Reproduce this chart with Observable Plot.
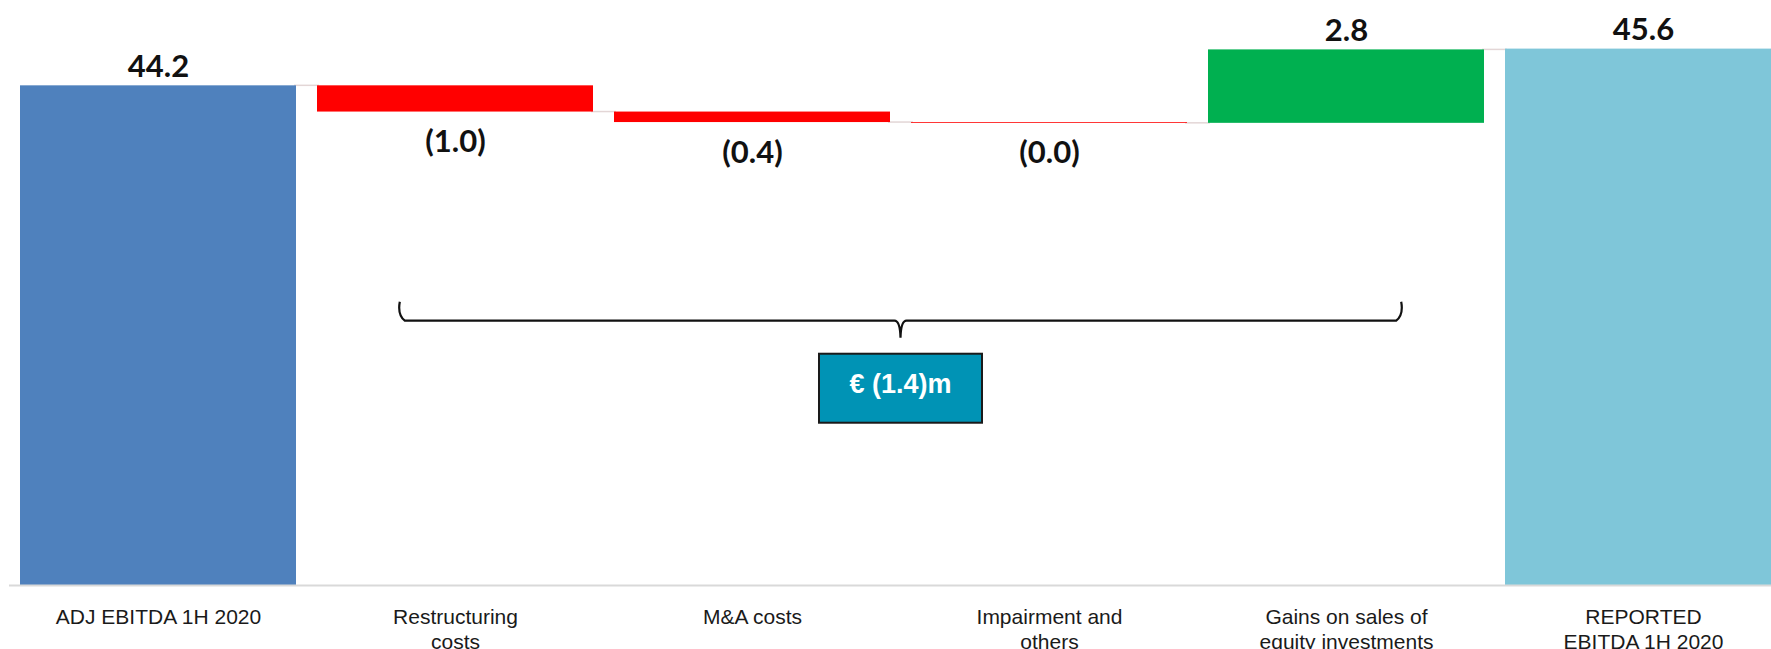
<!DOCTYPE html>
<html><head><meta charset="utf-8">
<script src="https://cdn.jsdelivr.net/npm/d3@7"></script>
<script src="https://cdn.jsdelivr.net/npm/@observablehq/plot@0.6"></script>
<style>html,body{margin:0;padding:0;background:#fff;overflow:hidden}</style>
</head><body><div id="chart"></div>
<script>
// ---- data ----
const categories = ["ADJ EBITDA 1H 2020", "Restructuring costs", "M&A costs", "Impairment and others", "Gains on sales of equity investments", "REPORTED EBITDA 1H 2020"];
const tickLabels = ["ADJ EBITDA 1H 2020", "Restructuring\ncosts", "M&A costs", "Impairment and\nothers", "Gains on sales of\nequity investments", "REPORTED\nEBITDA 1H 2020"];
const values = [44.2, -1.0, -0.4, -0.03, 2.8, 45.6];
const kinds = ["start", "delta", "delta", "delta", "delta", "end"];
const valueLabels = ["44.2", "(1.0)", "(0.4)", "(0.0)", "2.8", "45.6"];
const bracketFrom = "Restructuring costs";
const bracketTo = "Gains on sales of equity investments";
const bracketLevel = 35.95;
const bracketLabel = "€ (1.4)m";

// ---- scale settings ----
const axisMin = 25.15, axisMax = 46.5;

let run = 0;
const rows = categories.map((c, i) => {
  const k = kinds[i], v = values[i];
  let y1, y2;
  if (k === "delta") { y1 = run; y2 = run + v; run = y2; }
  else { y1 = axisMin; y2 = v; run = v; }
  return {category: c, tick: tickLabels[i], label: valueLabels[i], kind: k, value: v, y1, y2,
          lo: Math.min(y1, y2), hi: Math.max(y1, y2)};
});
const fillOf = d => d.kind === "start" ? "#4f81bd" : d.kind === "end" ? "#7fc6d9" : d.value < 0 ? "#ff0000" : "#00b050";

function connectors(index, scales) {
  const sx = scales.x, sy = scales.y;
  const bw = typeof sx.bandwidth === "function" ? sx.bandwidth() : 0;
  const g = d3.create("svg:g");
  for (let i = 0; i < rows.length - 1; i++) {
    const yv = sy(rows[i].y2);
    g.append("line")
      .attr("x1", sx(rows[i].category) + bw - 2).attr("x2", sx(rows[i + 1].category) + 2)
      .attr("y1", yv).attr("y2", yv)
      .attr("stroke", "#e3d6d6").attr("stroke-width", 1.5);
  }
  return g.node();
}

function annotation(index, scales) {
  const sx = scales.x, sy = scales.y;
  const bw = typeof sx.bandwidth === "function" ? sx.bandwidth() : 0;
  const xa = sx(bracketFrom) + bw / 2 - 0.2 * bw;
  const xb = sx(bracketTo) + bw / 2 + 0.2 * bw;
  const xc = (xa + xb) / 2;
  const yT = sy(bracketLevel), yH = yT + 19, yTip = yH + 17;
  const g = d3.create("svg:g");
  const p = d3.path();
  p.moveTo(xa, yT);
  p.bezierCurveTo(xa - 1.5, yT + 8, xa, yH - 4, xa + 5, yH);
  p.lineTo(xc - 6, yH);
  p.quadraticCurveTo(xc - 0.5, yH, xc, yTip);
  p.quadraticCurveTo(xc + 0.5, yH, xc + 6, yH);
  p.lineTo(xb - 5, yH);
  p.bezierCurveTo(xb, yH - 4, xb + 1.5, yT + 8, xb, yT);
  g.append("path").attr("d", p.toString()).attr("fill", "none")
    .attr("stroke", "#111").attr("stroke-width", 2.2);
  const bwid = 163, bh = 69, btop = yTip + 16;
  g.append("rect").attr("x", xc - bwid / 2).attr("y", btop).attr("width", bwid).attr("height", bh)
    .attr("fill", "#0093b5").attr("stroke", "#1a1a1a").attr("stroke-width", 2);
  g.append("text").attr("x", xc).attr("y", btop + 39).attr("text-anchor", "middle")
    .attr("font-family", "Liberation Sans, Arial, sans-serif").attr("font-weight", "bold")
    .attr("font-size", 27).attr("fill", "#fff").text(bracketLabel);
  return g.node();
}

const chart = Plot.plot({
  width: 1771,
  height: 649,
  marginLeft: 9,
  marginRight: 0,
  marginTop: 25,
  marginBottom: 64,
  style: {background: "#fff"},
  x: {type: "band", domain: categories, range: [16.9, 1784], paddingInner: 0.07, paddingOuter: 0, axis: null},
  y: {domain: [axisMin, axisMax], clamp: true, axis: null},
  marks: [
    connectors,
    Plot.barY(rows, {x: "category", y1: "lo", y2: "hi", fill: fillOf, inset: 0}),
    Plot.ruleY([axisMin], {stroke: "#d9d9d9", strokeWidth: 2}),
    Plot.text(rows.filter(d => !(d.kind === "delta" && d.value < 0)), {
      x: "category", y: "hi", text: "label", lineAnchor: "bottom", dy: -9,
      fontFamily: "Lato, sans-serif", fontWeight: 700, fontSize: 31, fill: "#111"}),
    Plot.text(rows.filter(d => d.kind === "delta" && d.value < 0), {
      x: "category", y: "lo", text: "label", lineAnchor: "top", dy: 18,
      fontFamily: "Lato, sans-serif", fontWeight: 700, fontSize: 31, fill: "#111"}),
    Plot.text(rows, {
      x: "category", frameAnchor: "bottom", text: "tick", lineAnchor: "top", dy: 21, lineHeight: 1.17,
      fontFamily: "Liberation Sans, Arial, sans-serif", fontSize: 21, fill: "#1a1a1a"}),
    annotation
  ]
});
document.getElementById("chart").appendChild(chart);
</script>
</body></html>
